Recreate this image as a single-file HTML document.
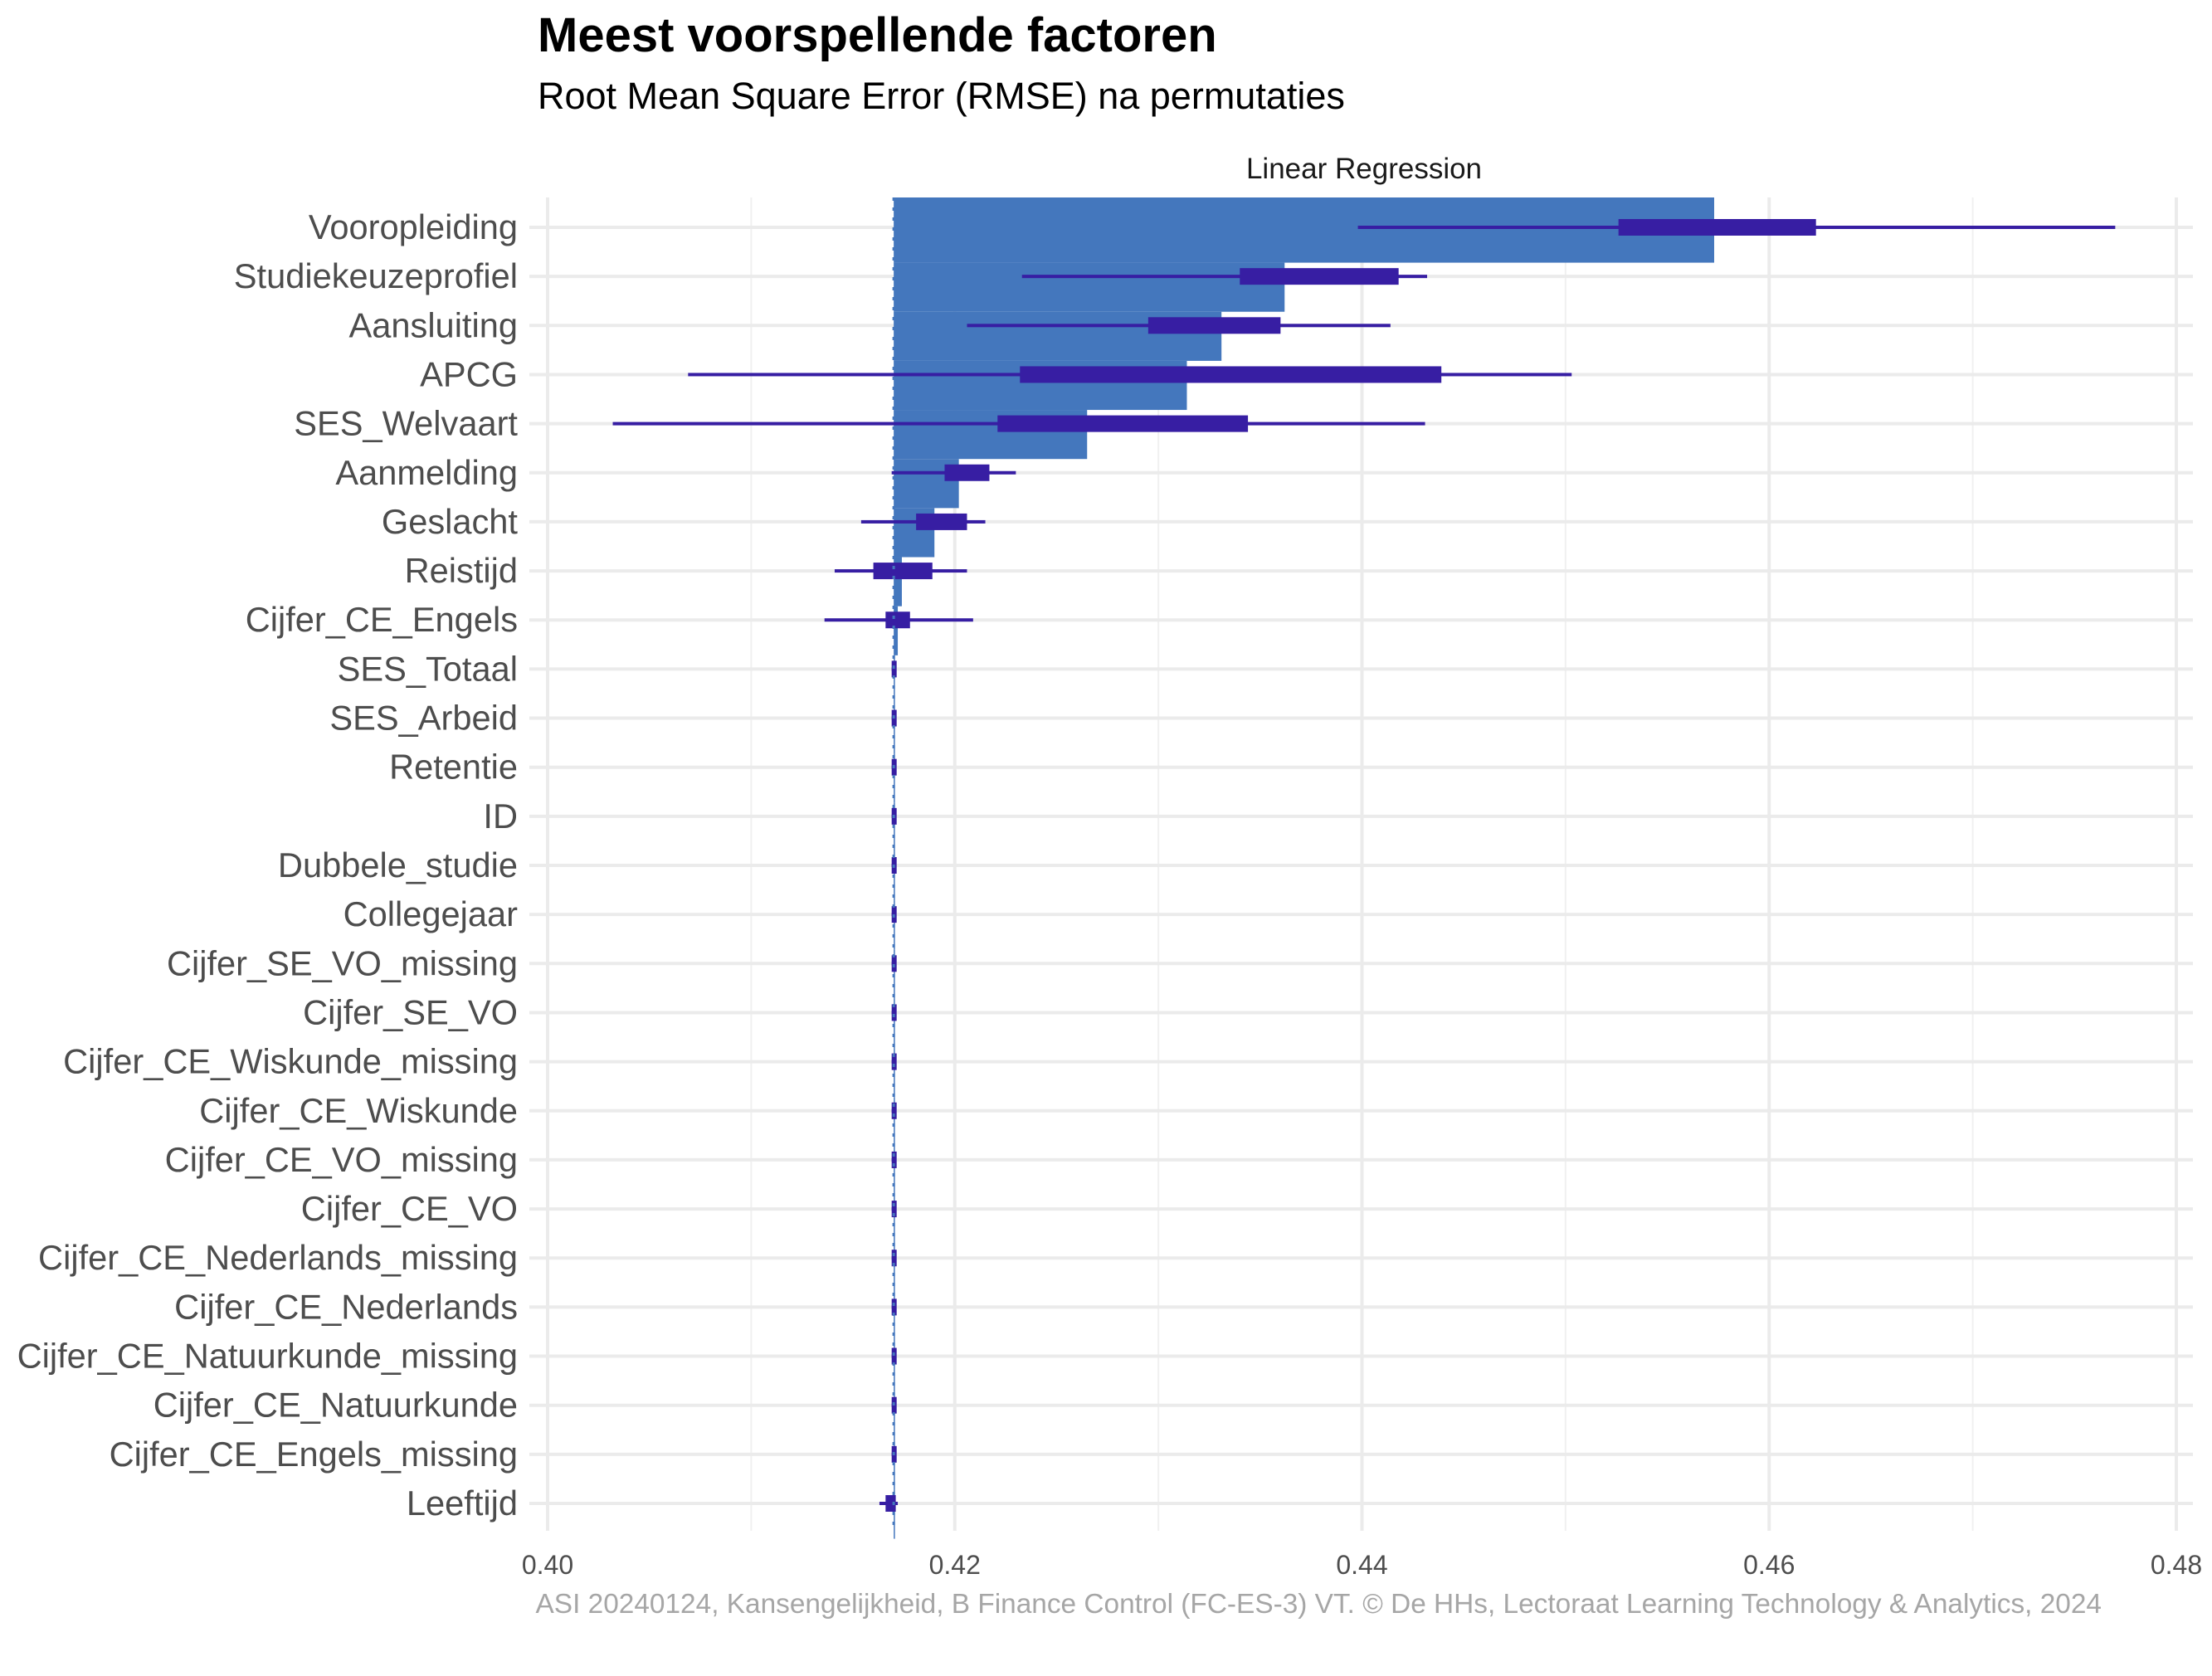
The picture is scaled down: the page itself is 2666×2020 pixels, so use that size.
<!DOCTYPE html>
<html><head><meta charset="utf-8"><style>
html,body{margin:0;padding:0;background:#fff;}
svg{display:block;font-family:"Liberation Sans",Arial,sans-serif;}
</style></head><body>
<svg id="chart" width="2666" height="2020" viewBox="0 0 2666 2020">
<text x="648" y="62" font-size="58" font-weight="bold" fill="#000">Meest voorspellende factoren</text>
<text x="648" y="131" font-size="45" fill="#000">Root Mean Square Error (RMSE) na permutaties</text>
<text x="1644" y="215" font-size="35" fill="#1a1a1a" text-anchor="middle">Linear Regression</text>
<g id="grid"></g><g id="bars"></g><g id="marks"></g><g id="labels"></g>
<text x="2533" y="1944" font-size="33.4" fill="#a6a6a6" text-anchor="end">ASI 20240124, Kansengelijkheid, B Finance Control (FC-ES-3) VT. © De HHs, Lectoraat Learning Technology &amp; Analytics, 2024</text>
</svg>
<script>
const features = ["Vooropleiding","Studiekeuzeprofiel","Aansluiting","APCG","SES_Welvaart","Aanmelding","Geslacht","Reistijd","Cijfer_CE_Engels","SES_Totaal","SES_Arbeid","Retentie","ID","Dubbele_studie","Collegejaar","Cijfer_SE_VO_missing","Cijfer_SE_VO","Cijfer_CE_Wiskunde_missing","Cijfer_CE_Wiskunde","Cijfer_CE_VO_missing","Cijfer_CE_VO","Cijfer_CE_Nederlands_missing","Cijfer_CE_Nederlands","Cijfer_CE_Natuurkunde_missing","Cijfer_CE_Natuurkunde","Cijfer_CE_Engels_missing","Leeftijd"];
const barValues = [0.4573,0.4362,0.4331,0.4314,0.4265,0.4202,0.4190,0.4174,0.4172,0.4170,0.4170,0.4170,0.4170,0.4170,0.4170,0.4170,0.4170,0.4170,0.4170,0.4170,0.4170,0.4170,0.4170,0.4170,0.4170,0.4170,0.4170];
const whiskerLow = [0.4398,0.4233,0.4206,0.4069,0.4032,0.4169,0.4154,0.4141,0.4136,0.4169,0.4169,0.4169,0.4169,0.4169,0.4169,0.4169,0.4169,0.4169,0.4169,0.4169,0.4169,0.4169,0.4169,0.4169,0.4169,0.4169,0.4163];
const whiskerHigh = [0.4770,0.4432,0.4414,0.4503,0.4431,0.4230,0.4215,0.4206,0.4209,0.4171,0.4171,0.4171,0.4171,0.4171,0.4171,0.4171,0.4171,0.4171,0.4171,0.4171,0.4171,0.4171,0.4171,0.4171,0.4171,0.4171,0.4172];
const boxLow = [0.4526,0.4340,0.4295,0.4232,0.4221,0.4195,0.4181,0.4160,0.4166,0.4169,0.4169,0.4169,0.4169,0.4169,0.4169,0.4169,0.4169,0.4169,0.4169,0.4169,0.4169,0.4169,0.4169,0.4169,0.4169,0.4169,0.4166];
const boxHigh = [0.4623,0.4418,0.4360,0.4439,0.4344,0.4217,0.4206,0.4189,0.4178,0.4171,0.4171,0.4171,0.4171,0.4171,0.4171,0.4171,0.4171,0.4171,0.4171,0.4171,0.4171,0.4171,0.4171,0.4171,0.4171,0.4171,0.4171];
const baseline = 0.4170;
const xTicks = [0.40,0.42,0.44,0.46,0.48];
const xTickLabels = ["0.40","0.42","0.44","0.46","0.48"];
const xMinor = [0.41,0.43,0.45,0.47];

const NS="http://www.w3.org/2000/svg";
const panelL=638, panelR=2643, panelT=238, panelB=1845;
const rowFirst=274, rowLast=1812;
const x = v => 660 + (v-0.40)/0.08*(2623-660);
const sp = (rowLast-rowFirst)/(features.length-1);
const y = i => rowFirst + i*sp;
function mk(tag, attrs, parent){const e=document.createElementNS(NS,tag);for(const k in attrs)e.setAttribute(k,attrs[k]);document.getElementById(parent).appendChild(e);return e;}

xMinor.forEach(v=>{const e=mk('line',{x1:x(v),x2:x(v),y1:panelT,y2:panelB,stroke:'#f0f0f0','stroke-width':2},'grid');

});
xTicks.forEach((v,k)=>{const e=mk('line',{x1:x(v),x2:x(v),y1:panelT,y2:panelB,stroke:'#ebebeb','stroke-width':4},'grid');


const t=mk('text',{x:x(v),y:1897,'font-size':32,fill:'#4d4d4d','text-anchor':'middle'},'labels');
t.textContent=xTickLabels[k];

});
features.forEach((f,i)=>{
const g=mk('line',{x1:panelL,x2:panelR,y1:y(i),y2:y(i),stroke:'#ebebeb','stroke-width':4},'grid');


const top=(i===0)?panelT:y(i)-0.28*sp, bot=y(i)+0.72*sp;
const b=mk('rect',{x:x(baseline),y:top,width:Math.max(1.5,x(barValues[i])-x(baseline)),height:bot-top,fill:'#4477bd'},'bars');


const w=mk('rect',{x:x(whiskerLow[i]),y:y(i)-2,width:x(whiskerHigh[i])-x(whiskerLow[i]),height:4,fill:'#371ea3'},'marks');


const bx=mk('rect',{x:x(boxLow[i]),y:y(i)-10,width:Math.max(6,x(boxHigh[i])-x(boxLow[i])),height:20,fill:'#371ea3'},'marks');


const t=mk('text',{x:624,y:y(i)+14,'font-size':41.6,fill:'#4d4d4d','text-anchor':'end'},'labels');
t.textContent=f;


});
const d=mk('line',{x1:x(baseline),x2:x(baseline),y1:panelT,y2:panelB,stroke:'#4477bd','stroke-width':3,'stroke-dasharray':'4 8'},'marks');


</script>
</body></html>
